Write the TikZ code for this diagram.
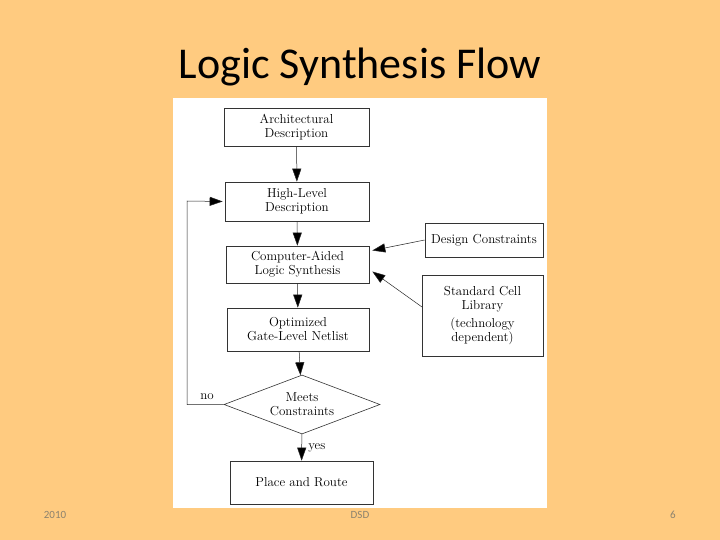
\documentclass[tikz,border=0pt]{standalone}
\usepackage{fontspec}
\newfontfamily\calibri{Carlito}
\usetikzlibrary{shapes.geometric,arrows.meta}
\definecolor{slidebg}{RGB}{255,203,128}
\definecolor{footgray}{RGB}{140,130,110}
\tikzset{
  flowbox/.style={draw=black!80,line width=0.6pt,fill=white,align=center,font=\fontsize{13}{14}\selectfont,inner sep=0pt},
  flowarrow/.style={-{Triangle[length=13pt,width=9pt,fill=black]},line width=0.5pt,draw=black!85},
  footer/.style={font=\calibri\fontsize{11}{12}\selectfont,text=footgray}
}
\begin{document}
\begin{tikzpicture}[x=1pt,y=-1pt]
\useasboundingbox (0,0) rectangle (720,540);
\fill[slidebg] (0,0) rectangle (720,540);
\fill[white] (173,98) rectangle (547,508);
\node[font=\calibri\fontsize{44}{48}\selectfont] (title) at (360,67) {Logic Synthesis Flow};
% boxes
\node[flowbox,minimum width=145pt,minimum height=38pt] (arch) at (296.5,127) {Architectural\\Description};
\node[flowbox,minimum width=144pt,minimum height=39pt] (hl) at (297,201.5) {High-Level\\Description};
\node[flowbox,minimum width=143pt,minimum height=37pt] (cad) at (297.5,264.5) {Computer-Aided\\Logic Synthesis};
\node[flowbox,minimum width=142pt,minimum height=43pt] (opt) at (298,329.5) {Optimized\\Gate-Level Netlist};
\node[flowbox,diamond,aspect=2.6,minimum width=156pt,minimum height=59pt] (meet) at (302,404.5) {Meets\\Constraints};
\node[flowbox,minimum width=143pt,minimum height=43pt] (pr) at (301.5,482.5) {Place and Route};
\node[flowbox,minimum width=118pt,minimum height=34pt] (dc) at (484,240) {Design Constraints};
\node[flowbox,minimum width=121pt,minimum height=81pt] (scl) at (482.5,315.5) {Standard Cell\\Library\\[4pt](technology\\dependent)};
% arrows
\draw[flowarrow] (arch) -- (hl);
\draw[flowarrow] (hl) -- (cad);
\draw[flowarrow] (cad) -- (opt);
\draw[flowarrow] (opt) -- (meet);
\draw[flowarrow] (meet) -- node[right,font=\fontsize{13}{14}\selectfont,xshift=3pt] (yes) {yes} (pr);
\coordinate (lc) at (187,404.5);
\coordinate (lt) at (187,201);
\draw[flowarrow] (meet.west) -- (lc) -- (lt) -- ([xshift=-2pt]hl.west);
\node[font=\fontsize{13}{14}\selectfont] (no) at (207,397) {no};
\draw[flowarrow] (dc.west) -- ([xshift=3pt,yshift=14pt]cad.east);
\coordinate (sclp) at (422,307);
\draw[flowarrow] (sclp) -- ([xshift=3pt,yshift=-7pt]cad.east);
% footer
\node[footer] (f1) at (55,515) {2010};
\node[footer] (f2) at (360,515) {DSD};
\node[footer] (f3) at (673,515) {6};
\end{tikzpicture}
\end{document}
